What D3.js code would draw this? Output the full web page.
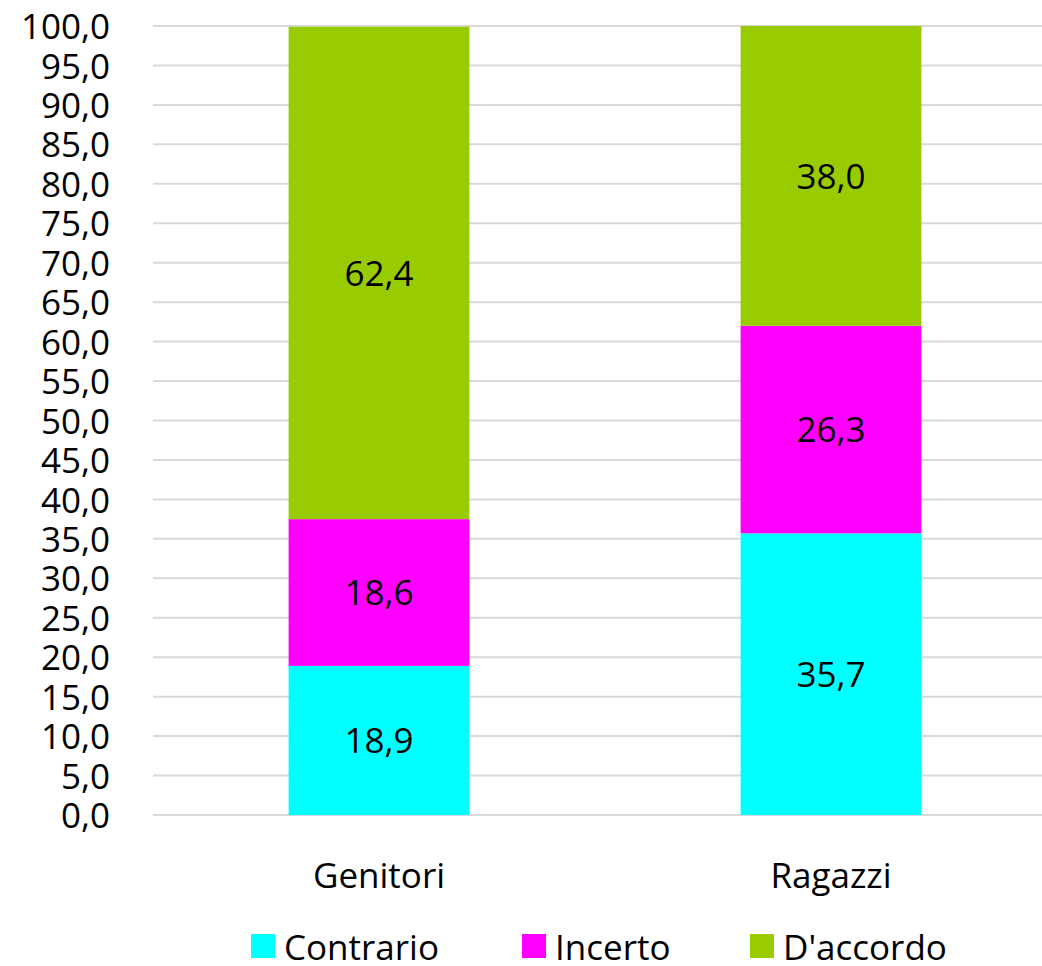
<!DOCTYPE html>
<html>
<head>
<meta charset="utf-8">
<script src="https://cdn.jsdelivr.net/npm/d3@7"></script>
<style>
  body { margin: 0; background: #fff; }
  svg text { font-family: "Open Sans", "Noto Sans", sans-serif; fill: #000; }
</style>
</head>
<body>
<svg id="chart" width="1042" height="966"></svg>
<script>
const categories = ['Genitori', 'Ragazzi'];
const seriesNames = ['Contrario', 'Incerto', "D'accordo"];
const seriesColors = ['#00FFFF', '#FF00FF', '#99CC00'];
const contrario = [18.9, 35.7];
const incerto = [18.6, 26.3];
const daccordo = [62.4, 38.0];
const yTicks = d3.range(0, 101, 5);

const svg = d3.select('#chart');
const margin = {top: 26, right: -15, bottom: 151, left: 153};
const width = +svg.attr('width') - margin.left - margin.right,
      height = +svg.attr('height') - margin.top - margin.bottom;

const fmt = v => d3.format('.1f')(v).replace('.', ',');

const x = d3.scaleBand().domain(categories).range([0, width])
  .paddingInner(0.6).paddingOuter(0.3);
const y = d3.scaleLinear().domain([0, 100]).range([height, 0]);

const g = svg.append('g')
  .attr('transform', 'translate(' + margin.left + ',' + margin.top + ')');

// gridlines
g.append('g')
  .selectAll('line')
  .data(yTicks)
  .enter().append('line')
    .attr('x1', 0)
    .attr('x2', width)
    .attr('y1', d => y(d))
    .attr('y2', d => y(d))
    .attr('stroke', '#d9d9d9')
    .attr('stroke-width', 2);

// y axis labels
const yAxis = g.append('g')
  .call(d3.axisLeft(y).tickValues(yTicks).tickFormat(fmt).tickSize(0).tickPadding(43));
yAxis.select('.domain').remove();
yAxis.selectAll('text')
  .style('font-family', '"Open Sans", sans-serif')
  .style('font-size', '35px')
  .attr('dy', '0.36em');

// stacked data
const rows = categories.map((c, i) => ({
  cat: c, Contrario: contrario[i], Incerto: incerto[i], "D'accordo": daccordo[i]
}));
const stack = d3.stack().keys(seriesNames)(rows);

const layers = g.selectAll('.layer')
  .data(stack)
  .enter().append('g')
    .attr('class', 'layer')
    .attr('fill', (d, i) => seriesColors[i]);

layers.selectAll('rect')
  .data(d => d)
  .enter().append('rect')
    .attr('x', d => x(d.data.cat))
    .attr('y', d => y(d[1]))
    .attr('width', x.bandwidth())
    .attr('height', d => y(d[0]) - y(d[1]));

layers.selectAll('text')
  .data(d => d)
  .enter().append('text')
    .attr('x', d => x(d.data.cat) + x.bandwidth() / 2)
    .attr('y', d => (y(d[0]) + y(d[1])) / 2)
    .attr('dy', '0.36em')
    .attr('text-anchor', 'middle')
    .style('font-size', '35px')
    .style('fill', '#000')
    .text(d => fmt(d[1] - d[0]));

// x axis labels
g.append('g')
  .selectAll('text')
  .data(categories)
  .enter().append('text')
    .attr('x', d => x(d) + x.bandwidth() / 2)
    .attr('y', height + 73)
    .attr('text-anchor', 'middle')
    .style('font-size', '35px')
    .text(d => d);

// legend
const legendX = [251, 522, 750];
const legend = svg.append('g')
  .selectAll('g')
  .data(seriesNames)
  .enter().append('g')
    .attr('transform', (d, i) => 'translate(' + legendX[i] + ',934)');
legend.append('rect')
  .attr('width', 24)
  .attr('height', 24)
  .attr('fill', (d, i) => seriesColors[i]);
legend.append('text')
  .attr('x', 33)
  .attr('y', 26)
  .style('font-size', '35px')
  .text(d => d);
</script>
</body>
</html>
